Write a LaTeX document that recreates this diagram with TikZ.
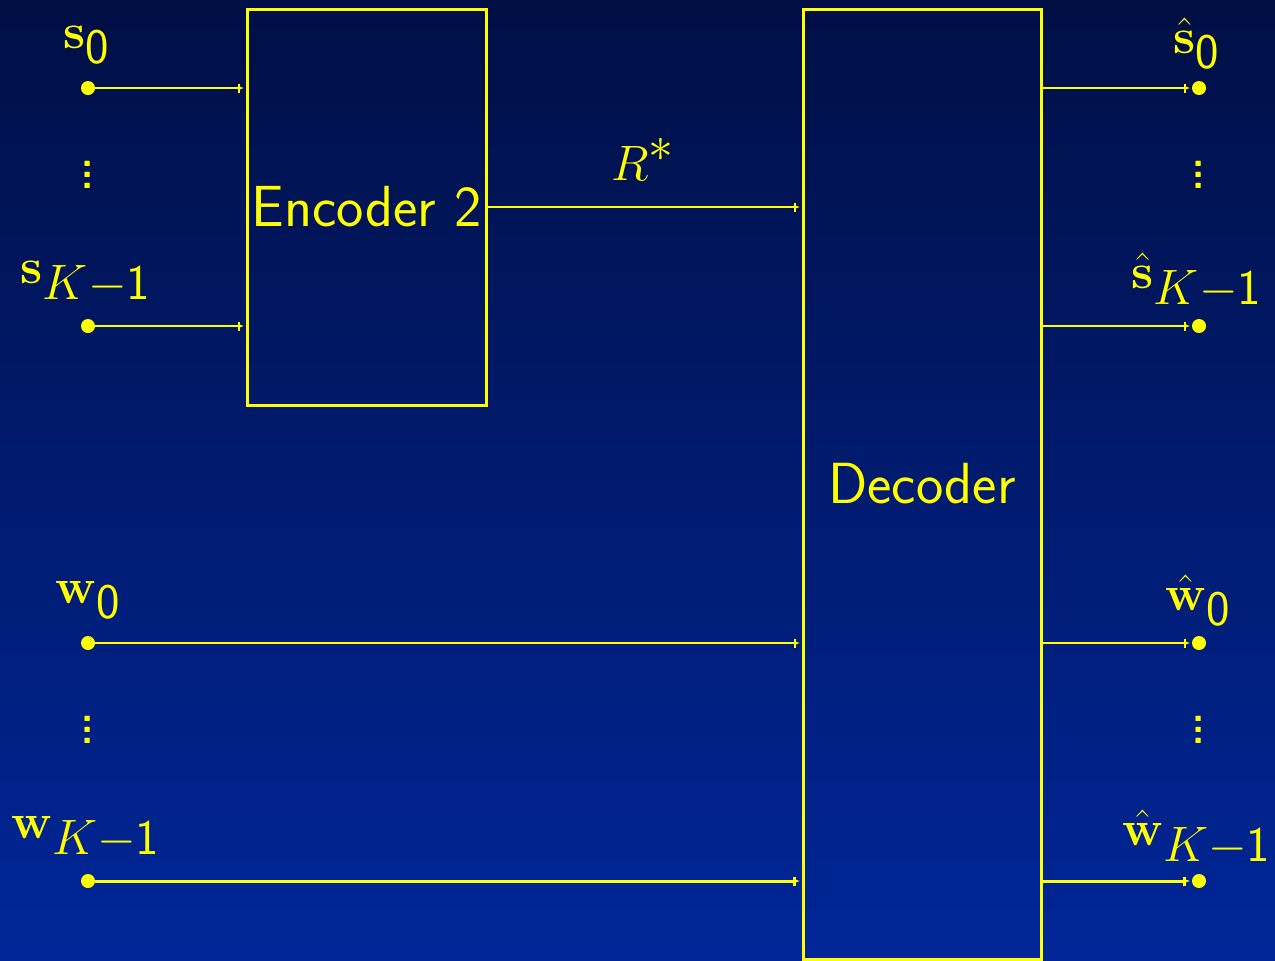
\documentclass[tikz,border=0pt]{standalone}
\usepackage{amsmath}
\usepackage{tikz}
\usetikzlibrary{arrows.meta,positioning,calc}
\definecolor{bgtop}{HTML}{000F45}
\definecolor{bgbottom}{HTML}{002698}
\definecolor{sigyellow}{HTML}{FFFF00}
\DeclareMathSizes{32}{32}{24}{19}
\newcommand{\portdots}{\vbox{\baselineskip5.5pt\lineskiplimit0pt
  \hbox{.}\hbox{.}\hbox{.}}}
\tikzset{
  blockbox/.style={draw=sigyellow,line width=1.5pt,text=sigyellow,align=center,
    inner sep=0pt,font=\fontsize{29}{34}\selectfont\sffamily},
  portdot/.style={circle,fill=sigyellow,inner sep=0pt,minimum size=7pt},
  portlabel/.style={text=sigyellow,inner sep=0pt,anchor=base,
    font=\fontsize{32}{38}\selectfont},
  moredots/.style={text=sigyellow,inner sep=0pt,
    font=\fontsize{20}{22}\selectfont\sffamily\bfseries},
  sigline/.style={draw=sigyellow,line width=1pt,
    -{Bar[width=4.5pt]Latex[length=3pt,width=1.5pt]}}
}

\begin{document}
\begin{tikzpicture}[x=0.5pt,y=-0.5pt]
  % background
  \shade[top color=bgtop,bottom color=bgbottom] (0,0) rectangle (1275,960);
  \useasboundingbox (0,0) rectangle (1275,960);
  % blocks
  \node[blockbox,minimum width=119.5pt,minimum height=198pt] (enc) at (366.5,207) {Encoder 2};
  \node[blockbox,minimum width=119pt,minimum height=475pt] (dec) at (922,484) {Decoder};
  % input ports
  \node[portdot] (s0) at (88,88) {};
  \node[portdot] (sK) at (88,326) {};
  \node[portdot] (w0) at (88,643) {};
  \node[portdot] (wK) at (88,881) {};
  % output ports
  \node[portdot] (hs0) at (1199,88) {};
  \node[portdot] (hsK) at (1199,326) {};
  \node[portdot] (hw0) at (1199,643) {};
  \node[portdot] (hwK) at (1199,881) {};
  % labels
  \node[portlabel] (ls0) at (87,48) {$\mathbf{s}_{\mathsf{0}}$};
  \node[portlabel] (lsK) at (86,283) {$\mathbf{s}_{K-\mathsf{1}}$};
  \node[portlabel] (lw0) at (88,603) {$\mathbf{w}_{\mathsf{0}}$};
  \node[portlabel] (lwK) at (86,838) {$\mathbf{w}_{K-\mathsf{1}}$};
  \node[portlabel] (lhs0) at (1197,53) {$\hat{\mathbf{s}}_{\mathsf{0}}$};
  \node[portlabel] (lhsK) at (1197,288) {$\hat{\mathbf{s}}_{K-\mathsf{1}}$};
  \node[portlabel] (lhw0) at (1198,610) {$\hat{\mathbf{w}}_{\mathsf{0}}$};
  \node[portlabel] (lhwK) at (1197,845) {$\hat{\mathbf{w}}_{K-\mathsf{1}}$};
  \node[portlabel] (rate) at (643,180) {$R^*$};
  % vertical dots
  \node[moredots] (vs) at (88,175) {\portdots};
  \node[moredots] (vw) at (88,730) {\portdots};
  \node[moredots] (vhs) at (1199,175) {\portdots};
  \node[moredots] (vhw) at (1199,730) {\portdots};
  % connectors
  \draw[sigline] (s0) -- (s0 -| enc.west);
  \draw[sigline] (sK) -- (sK -| enc.west);
  \draw[sigline] (enc.east) -- (enc.east -| dec.west);
  \draw[sigline] (w0) -- (w0 -| dec.west);
  \draw[sigline,line width=1.5pt] (wK) -- (wK -| dec.west);
  \draw[sigline] (hs0 -| dec.east) -- (hs0);
  \draw[sigline] (hsK -| dec.east) -- (hsK);
  \draw[sigline] (hw0 -| dec.east) -- (hw0);
  \draw[sigline,line width=1.5pt] (hwK -| dec.east) -- (hwK);
\end{tikzpicture}
\end{document}
